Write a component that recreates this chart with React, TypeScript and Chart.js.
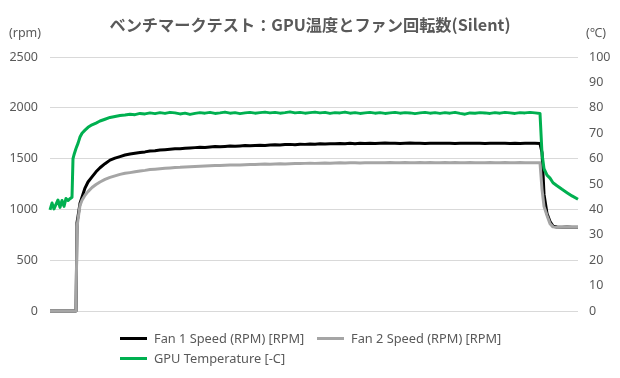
import React, { useEffect, useRef } from "react";
import { Chart, registerables } from "chart.js";

Chart.register(...registerables);

// elapsed time (s)
const timeSec = [
  0, 4, 8, 12, 16, 20, 24, 28, 32, 36, 40, 44,
  46, 48, 52, 54, 56, 60, 64, 70, 76, 84, 92, 100, 110,
  120, 130, 140, 150, 160, 170, 180, 190, 200, 210,
  220, 230, 240, 250, 260, 270, 280, 290, 300, 310,
  320, 330, 340, 350, 360, 370, 380, 390, 400, 410,
  420, 430, 440, 450, 460, 470, 480, 490, 500, 510,
  520, 530, 540, 550, 560, 570, 580, 590, 600, 610,
  620, 630, 640, 650, 660, 670, 680, 690, 700, 710,
  720, 730, 740, 750, 760, 770, 780, 790, 800, 810,
  820, 830, 840, 850, 860, 870, 880, 890, 900, 910,
  920, 930, 940, 950, 960, 970, 980,
  984, 988, 994, 1000, 1006, 1014, 1024, 1034, 1044, 1056,
];

const fan1Rpm = [
  0, 0, 0, 0, 0, 0, 0, 0, 0, 0, 0, 0,
  0, 0, 0, 870, 930, 1060, 1120, 1210, 1270, 1320, 1370, 1410, 1450,
  1485, 1505, 1520, 1535, 1545, 1552, 1560, 1566, 1575, 1578,
  1585, 1588, 1592, 1596, 1598, 1603, 1605, 1608, 1612, 1610,
  1615, 1618, 1616, 1620, 1623, 1621, 1625, 1628, 1626, 1630,
  1632, 1630, 1635, 1637, 1634, 1638, 1640, 1637, 1642, 1640,
  1644, 1642, 1646, 1643, 1647, 1645, 1648, 1646, 1650, 1647,
  1650, 1648, 1652, 1649, 1651, 1653, 1650, 1652, 1649, 1651,
  1653, 1650, 1652, 1649, 1651, 1650, 1652, 1650, 1651, 1649,
  1651, 1650, 1652, 1650, 1651, 1649, 1651, 1650, 1652, 1650,
  1648, 1651, 1649, 1650, 1651, 1650, 1648,
  1560, 1150, 960, 880, 835, 826, 825, 826, 825, 825,
];

const fan2Rpm = [
  0, 0, 0, 0, 0, 0, 0, 0, 0, 0, 0, 0,
  0, 0, 0, 830, 900, 1040, 1090, 1140, 1175, 1215, 1245, 1270, 1295,
  1315, 1330, 1345, 1355, 1362, 1370, 1378, 1384, 1392, 1396,
  1400, 1405, 1408, 1412, 1414, 1418, 1420, 1423, 1425, 1427,
  1430, 1432, 1431, 1434, 1436, 1438, 1437, 1440, 1442, 1441,
  1444, 1446, 1445, 1447, 1449, 1448, 1450, 1452, 1451, 1453,
  1454, 1453, 1455, 1456, 1455, 1457, 1458, 1456, 1458, 1459,
  1457, 1459, 1460, 1458, 1460, 1459, 1461, 1459, 1460, 1462,
  1460, 1459, 1461, 1460, 1462, 1460, 1459, 1461, 1460, 1462,
  1460, 1459, 1461, 1460, 1458, 1460, 1461, 1459, 1460, 1462,
  1460, 1459, 1461, 1460, 1459, 1460, 1458,
  1200, 1030, 940, 860, 828, 825, 825, 826, 825, 825,
];

const gpuTempC = [
  39.8, 42.5, 40.2, 42, 43.7, 40.8, 43.5, 41.2, 44.3, 43.5, 44.2, 44.8,
  60, 61.5, 64, 65, 66, 68.5, 70, 71.2, 72.3, 73.3, 74, 74.8, 75.5,
  76.2, 76.6, 77.0, 77.2, 77.5, 77.3, 77.8, 77.6, 78.0, 77.7,
  78.1, 77.8, 78.2, 78.0, 77.6, 77.9, 77.4, 77.8, 78.1, 77.9,
  78.2, 77.8, 78.0, 78.3, 77.9, 78.1, 77.7, 78.0, 78.2, 77.9,
  78.1, 78.3, 78.0, 78.2, 77.9, 78.1, 78.4, 78.0, 78.2, 77.9,
  78.1, 78.3, 78.0, 78.2, 77.8, 78.1, 78.0, 78.3, 77.9, 78.1,
  77.8, 78.0, 78.2, 77.9, 78.1, 77.8, 78.0, 78.2, 77.9, 78.1,
  78.0, 77.7, 78.0, 78.2, 77.9, 78.1, 77.8, 78.1, 77.9, 78.2,
  77.8, 77.5, 78.0, 77.9, 78.1, 78.0, 77.8, 78.1, 77.9, 78.2,
  78.0, 77.8, 78.1, 78.0, 78.2, 78.0, 77.8,
  62, 56, 53.5, 52.3, 50.5, 49.3, 47.9, 46.6, 45.3, 44,
];

const seriesNames = ["Fan 1 Speed (RPM) [RPM]", "Fan 2 Speed (RPM) [RPM]", "GPU Temperature [-C]"];
const seriesColors = ["#000000", "#a5a5a5", "#00b050"];
const titleText = "ベンチマークテスト：GPU温度とファン回転数(Silent)";

const TEXT = "#595959";
const FONT = '"Noto Sans", "Noto Sans CJK JP", sans-serif';

export default function App() {
  const ref = useRef<HTMLCanvasElement | null>(null);

  useEffect(() => {
    if (!ref.current) return;
    const mk = (arr: number[]) => timeSec.map((t, i) => ({ x: t, y: arr[i] }));
    const chart = new Chart(ref.current, {
      type: "line",
      data: {
        datasets: [
          { label: seriesNames[0], data: mk(fan1Rpm), borderColor: seriesColors[0], yAxisID: "y", order: 2 },
          { label: seriesNames[1], data: mk(fan2Rpm), borderColor: seriesColors[1], yAxisID: "y", order: 1 },
          { label: seriesNames[2], data: mk(gpuTempC), borderColor: seriesColors[2], yAxisID: "y2", order: 0 },
        ].map((d) => ({
          ...d,
          borderWidth: 3,
          pointRadius: 0,
          tension: 0,
          fill: false,
          borderJoinStyle: "round" as const,
          clip: false as any,
        })),
      },
      options: {
        responsive: false,
        animation: false,
        layout: { padding: { top: 57, bottom: 67, left: 0, right: 0 } },
        plugins: { legend: { display: false }, title: { display: false }, tooltip: { enabled: false } },
        scales: {
          x: { type: "linear", display: false, min: 0, max: 1056 },
          y: {
            position: "left",
            min: 0,
            max: 2500,
            ticks: { stepSize: 500, padding: 12, color: TEXT, font: { family: FONT, size: 12.5 }, callback: (v: any) => String(v) },
            grid: { color: "#d9d9d9", lineWidth: 1, drawTicks: false },
            border: { display: false },
            afterFit: (s: any) => { s.width = 50; },
          },
          y2: {
            position: "right",
            min: 0,
            max: 100,
            ticks: { stepSize: 10, padding: 11, color: TEXT, font: { family: FONT, size: 12.5 }, callback: (v: any) => String(v) },
            grid: { display: false, drawTicks: false },
            border: { display: false },
            afterFit: (s: any) => { s.width = 42; },
          },
        },
      },
    });
    return () => chart.destroy();
  }, []);

  const legendItem = (i: number, left: number, top: number) => (
    <div key={i} style={{ position: "absolute", left, top, height: 16, display: "flex", alignItems: "center", whiteSpace: "nowrap" }}>
      <div style={{ width: 27, height: 3, background: seriesColors[i], marginRight: 7 }} />
      <span style={{ fontFamily: FONT, fontSize: 12.8, color: TEXT }}>{seriesNames[i]}</span>
    </div>
  );

  return (
    <div style={{ position: "fixed", left: 0, top: 0, width: 620, height: 378, background: "#fff", overflow: "hidden" }}>
      <canvas ref={ref} width={620} height={378} style={{ position: "absolute", left: 0, top: 0 }} />
      <div style={{ position: "absolute", left: 0, width: 620, top: 13, textAlign: "center", fontFamily: '"Noto Sans CJK JP", sans-serif', fontWeight: 700, fontSize: 16.2, color: TEXT, lineHeight: "22px" }}>
        {titleText}
      </div>
      <div style={{ position: "absolute", left: 9, top: 24, fontFamily: FONT, fontSize: 12.5, color: TEXT, lineHeight: "18px" }}>(rpm)</div>
      <div style={{ position: "absolute", left: 586, top: 24, fontFamily: FONT, fontSize: 12.5, color: TEXT, lineHeight: "18px" }}>(℃)</div>
      {legendItem(0, 120, 330)}
      {legendItem(1, 317, 330)}
      {legendItem(2, 120, 350)}
    </div>
  );
}
